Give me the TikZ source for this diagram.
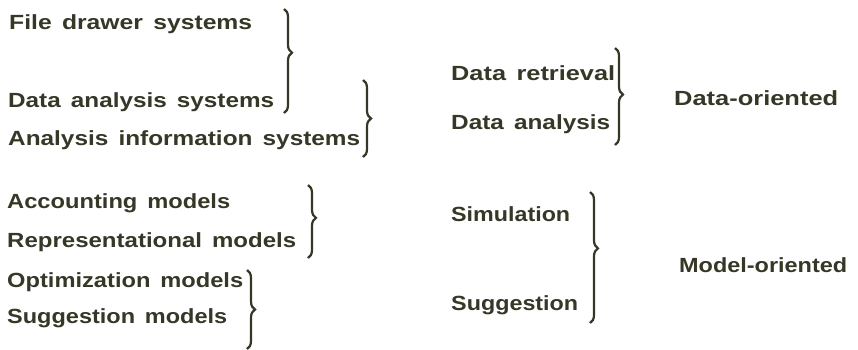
\documentclass[tikz,border=0pt]{standalone}
\usepackage{fontspec}
\setmainfont{Liberation Sans}[WordSpace=1.5]
\usetikzlibrary{decorations.pathreplacing}
\definecolor{ink}{RGB}{55,55,40}
\newcommand{\fitw}[2]{\resizebox{#1pt}{\height}{#2}}
\tikzset{
  lbl/.style={anchor=base west,inner sep=0pt,text=ink,font=\fontsize{20.5}{23}\selectfont\bfseries},
  brc/.style={draw=ink,line width=2.2pt,decorate,decoration={brace,amplitude=8pt,raise=0pt}}
}
\begin{document}
\begin{tikzpicture}[x=1pt,y=-1pt]
\useasboundingbox[fill=white] (0,0) rectangle (858,349);
% left column
\node[lbl] (fds) at (9,29)  {\fitw{243}{File drawer systems}};
\node[lbl] (das) at (8,107) {\fitw{266}{Data analysis systems}};
\node[lbl] (ais) at (8,145) {\fitw{352}{Analysis information systems}};
\node[lbl] (acm) at (7,208) {\fitw{223}{Accounting models}};
\node[lbl] (rem) at (7,247) {\fitw{289}{Representational models}};
\node[lbl] (opm) at (7,287) {\fitw{236}{Optimization models}};
\node[lbl] (sum) at (7,323) {\fitw{220}{Suggestion models}};
% middle column
\node[lbl] (dre) at (451,80)  {\fitw{164}{Data retrieval}};
\node[lbl] (dan) at (451,129) {\fitw{159}{Data analysis}};
\node[lbl] (sim) at (451,221) {\fitw{119}{Simulation}};
\node[lbl] (sug) at (451,310) {\fitw{127}{Suggestion}};
% right column
\node[lbl] (dor) at (674,105) {\fitw{164}{Data-oriented}};
\node[lbl] (mor) at (679,272) {\fitw{168}{Model-oriented}};
% brace end points
\coordinate (b1t) at (284,9);   \coordinate (b1b) at (284,113);
\coordinate (b2t) at (363,80);  \coordinate (b2b) at (363,157);
\coordinate (b3t) at (308,185); \coordinate (b3b) at (308,258);
\coordinate (b4t) at (247,270); \coordinate (b4b) at (247,349);
\coordinate (b5t) at (615,48);  \coordinate (b5b) at (615,145);
\coordinate (b6t) at (590,192); \coordinate (b6b) at (590,323);
\draw[brc,decoration={aspect=0.42}] (b1t) -- (b1b);
\draw[brc] (b2t) -- (b2b);
\draw[brc,decoration={aspect=0.45}] (b3t) -- (b3b);
\draw[brc,decoration={aspect=0.5}] (b4t) -- (b4b);
\draw[brc,decoration={aspect=0.48}] (b5t) -- (b5b);
\draw[brc,decoration={aspect=0.43}] (b6t) -- (b6b);
\end{tikzpicture}
\end{document}
